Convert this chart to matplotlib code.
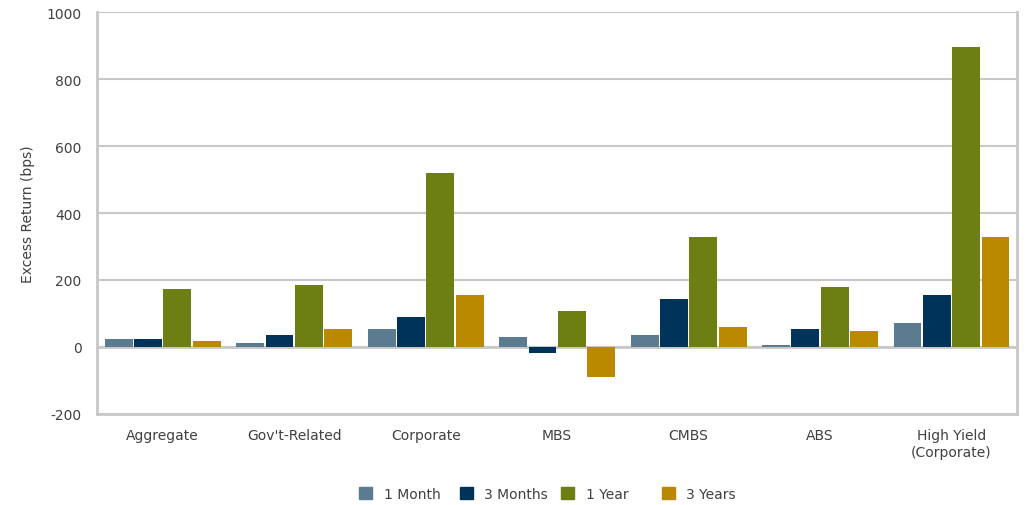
import numpy as np
import matplotlib.pyplot as plt
from matplotlib.patches import Patch

categories = ["Aggregate", "Gov't-Related", "Corporate", "MBS", "CMBS", "ABS", "High Yield\n(Corporate)"]
one_month = [24, 12, 54, 30, 36, 6, 72]
three_months = [24, 36, 90, -18, 143, 54, 155]
one_year = [173, 185, 520, 107, 328, 179, 895]
three_years = [18, 54, 155, -90, 60, 48, 328]

series = [("1 Month", one_month, "#5B7C90"),
          ("3 Months", three_months, "#00335A"),
          ("1 Year", one_year, "#6D7F12"),
          ("3 Years", three_years, "#BA8900")]

plt.rcParams['font.family'] = ['DejaVu Sans']
plt.rcParams['axes.unicode_minus'] = False
grid_c = "#C8C8C8"
text_c = "#404040"

fig = plt.figure(figsize=(10.26, 5.06), dpi=100)
ax = fig.add_axes([0.0945, 0.18, 0.897, 0.794])

x = np.arange(len(categories))
pitch = 0.223
width = 0.212
for i, (name, vals, col) in enumerate(series):
    ax.bar(x + (i - 1.5) * pitch, vals, width, color=col, zorder=3)

ax.set_xlim(-0.5, len(categories) - 0.5)
ax.set_ylim(-200, 1000)
ax.set_yticks(range(-200, 1001, 200))
ax.yaxis.grid(True, color=grid_c, linewidth=1.5, zorder=0)
ax.axhline(0, color=grid_c, linewidth=2, zorder=2)
ax.set_xticks(x)
ax.set_xticklabels(categories, fontsize=10, color=text_c, linespacing=1.25)
ax.tick_params(axis='both', length=0, labelsize=10, colors=text_c)
ax.tick_params(axis='x', pad=10)
ax.tick_params(axis='y', pad=11)
for s in ['left', 'right', 'bottom']:
    ax.spines[s].set_color(grid_c)
    ax.spines[s].set_linewidth(2)
ax.spines['top'].set_visible(False)

ax.set_ylabel("Excess Return (bps)", fontsize=10, color=text_c, labelpad=8)

# legend entries sit at evenly spaced positions along the bottom
for i, (name, _, col) in enumerate(series):
    fig.legend(handles=[Patch(color=col, label=name)], loc='center left',
               bbox_to_anchor=((346 + 101 * i) / 1026, 1 - 495 / 506),
               frameon=False, fontsize=10, handlelength=1.0, handleheight=1.0,
               handletextpad=0.8, labelcolor=text_c)

fig.savefig("out.png", dpi=100)
